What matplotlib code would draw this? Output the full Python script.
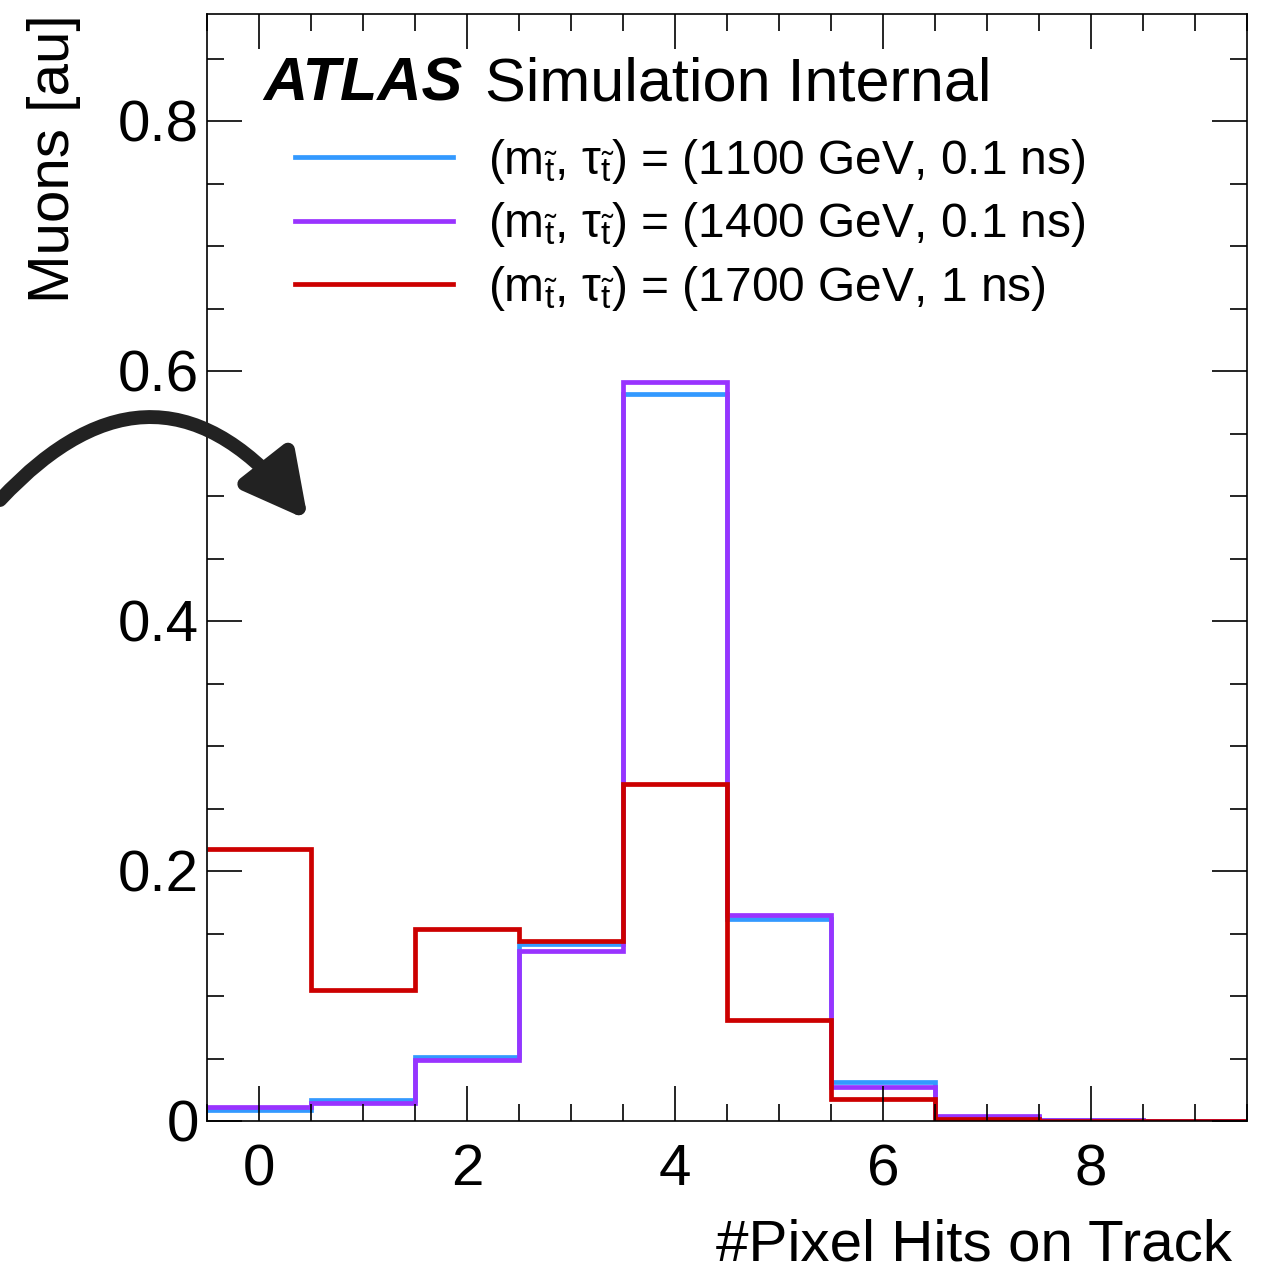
import numpy as np
import matplotlib
matplotlib.use("Agg")
import matplotlib.pyplot as plt
from matplotlib.patches import FancyArrowPatch
from matplotlib.ticker import MultipleLocator

plt.rcParams['font.family'] = ['Liberation Sans', 'DejaVu Sans']
plt.rcParams['mathtext.fontset'] = 'custom'
plt.rcParams['mathtext.rm'] = 'Liberation Sans'
plt.rcParams['mathtext.it'] = 'Liberation Sans:italic'
plt.rcParams['mathtext.bf'] = 'Liberation Sans:bold'

# Data
bin_edges = np.arange(-0.5, 10.0, 1.0)
series_labels = [
    r"(m$_{\tilde{\mathrm{t}}}$, $\mathrm{\tau}_{\tilde{\mathrm{t}}}$) = (1100 GeV, 0.1 ns)",
    r"(m$_{\tilde{\mathrm{t}}}$, $\mathrm{\tau}_{\tilde{\mathrm{t}}}$) = (1400 GeV, 0.1 ns)",
    r"(m$_{\tilde{\mathrm{t}}}$, $\mathrm{\tau}_{\tilde{\mathrm{t}}}$) = (1700 GeV, 1 ns)",
]
blue_1100 = [0.009, 0.017, 0.051, 0.142, 0.582, 0.162, 0.031, 0.003, 0.0005, 0.0]
purple_1400 = [0.011, 0.0145, 0.049, 0.136, 0.591, 0.165, 0.027, 0.004, 0.0005, 0.0]
red_1700 = [0.218, 0.105, 0.154, 0.144, 0.270, 0.081, 0.018, 0.002, 0.0, 0.0]
series_values = [blue_1100, purple_1400, red_1700]
series_colors = ['#3399ff', '#9933ff', '#cc0000']

W, H = 1265, 1275
fig = plt.figure(figsize=(W / 100, H / 100), dpi=100)
ax = fig.add_axes([207 / W, 1 - 1121 / H, (1247 - 207) / W, (1121 - 14) / H])

for vals, col, lab in zip(series_values, series_colors, series_labels):
    ax.stairs(vals, bin_edges, baseline=None, color=col, linewidth=3.4, label=lab)

ax.set_xlim(-0.5, 9.5)
ax.set_ylim(0, 0.8856)
ax.xaxis.set_minor_locator(MultipleLocator(0.5))
ax.yaxis.set_minor_locator(MultipleLocator(0.05))
ax.set_xticks([0, 2, 4, 6, 8])
ax.set_xticklabels(['0', '2', '4', '6', '8'])
ax.set_yticks([0, 0.2, 0.4, 0.6, 0.8])
ax.set_yticklabels(['0', '0.2', '0.4', '0.6', '0.8'])
ax.tick_params(which='both', direction='in', top=True, right=True, width=1.2, colors='black')
ax.tick_params(which='major', length=25, labelsize=42)
ax.tick_params(which='minor', length=12)
ax.tick_params(axis='y', which='major', pad=6)
ax.tick_params(axis='x', which='major', pad=16)
for s in ax.spines.values():
    s.set_linewidth(1.2)

ax.set_xlabel('#Pixel Hits on Track', fontsize=42, x=(1232 - 207) / 1040,
              ha='right', labelpad=15)
ax.set_ylabel('Muons [au]', fontsize=42, loc='top', labelpad=26)

ax.text((263 - 207) / 1040, (1121 - 100) / 1107, 'ATLAS', transform=ax.transAxes,
        fontsize=44, fontweight='bold', fontstyle='italic', va='baseline', ha='left')
ax.text((485 - 207) / 1040, (1121 - 100) / 1107, 'Simulation Internal', transform=ax.transAxes,
        fontsize=44, va='baseline', ha='left')

leg = ax.legend(loc='upper left', bbox_to_anchor=(295 / W, 1 - 137 / H),
                bbox_transform=fig.transFigure, frameon=False, fontsize=34.5,
                handlelength=3.3, handletextpad=0.72, borderpad=0, borderaxespad=0,
                labelspacing=0.30)

arrow = FancyArrowPatch((0 / W, 1 - 500 / H), (308 / W, 1 - 520 / H),
                        transform=fig.transFigure,
                        connectionstyle='angle3,angleA=47,angleB=-51.8',
                        arrowstyle='-|>,head_length=0.95,head_width=0.5',
                        mutation_scale=40, linewidth=10, color='#222222',
                        shrinkA=0, shrinkB=0)
fig.patches.append(arrow)

fig.savefig('out.png', dpi=100)
